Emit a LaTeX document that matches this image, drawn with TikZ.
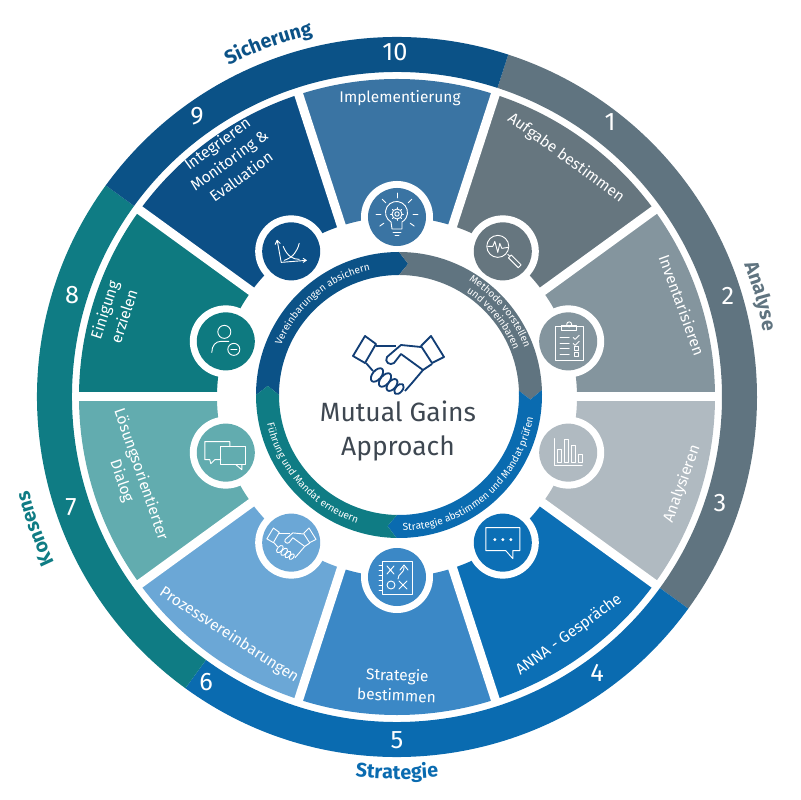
\documentclass[tikz,border=0pt]{standalone}
\usepackage{fontspec}
\setmainfont{Fira Sans}
\usetikzlibrary{decorations.text}

\definecolor{seg1}{HTML}{66767F}
\definecolor{seg2}{HTML}{84959E}
\definecolor{seg3}{HTML}{B0BAC1}
\definecolor{seg4}{HTML}{0C6FB5}
\definecolor{seg5}{HTML}{3B88C6}
\definecolor{seg6}{HTML}{6BA7D6}
\definecolor{seg7}{HTML}{62ACAF}
\definecolor{seg8}{HTML}{0E7A80}
\definecolor{seg9}{HTML}{0C4F86}
\definecolor{seg10}{HTML}{3A74A3}
\definecolor{phasegray}{HTML}{607480}
\definecolor{phaseblue}{HTML}{0A6BB0}
\definecolor{phaseteal}{HTML}{0F7C84}
\definecolor{phasenavy}{HTML}{0B5287}
\definecolor{textgray}{HTML}{3E4751}
\definecolor{shakenavy}{HTML}{123E75}

\tikzstyle{seglabel} = [text=white, align=center, font=\fontsize{11}{14.5}\selectfont, inner sep=0pt]
\tikzstyle{numlabel} = [text=white, font=\fontsize{18}{20}\selectfont, inner sep=0pt]
\tikzstyle{ringhalo} = [circle, fill=white, minimum size=1.8cm, inner sep=0pt]
\tikzstyle{iconback} = [circle, minimum size=1.45cm, inner sep=0pt]
\tikzstyle{iconline} = [draw=white, line width=0.65pt, line cap=round, line join=round]
\newcommand{\titlefont}{\fontsize{14}{16}\selectfont\bfseries}
\newcommand{\ringfont}{\fontsize{7.2}{8}\selectfont}

\tikzset{handshake/.pic={
        \draw (-33,27) -- (-22,19) -- (-33,0) -- (-45,7) -- cycle;
        \draw (33,27) -- (46,6) -- (34,0) -- (23,17) -- cycle;
        \draw (-22,17) -- (-2,17);
        \draw (23,16) -- (3,18) -- (-11,6) .. controls (-14,1) and (-8,-3) .. (-4,0) -- (3,9) -- (25,-7) -- (34,-1);
        \draw (25,-7) -- (14,-20) -- (7,-28);
        \draw (-32,0) -- (-25,-8);
        \draw[rotate around={50:(-21,-12)}] (-21,-12) ellipse (8 and 4.5);
        \draw[rotate around={50:(-13,-17)}] (-13,-17) ellipse (8 and 4.5);
        \draw[rotate around={50:(-6,-22)}] (-6,-22) ellipse (7 and 4);
        \draw[rotate around={50:(1,-26)}] (1,-26) ellipse (6 and 3.5);
}}

\begin{document}
\begin{tikzpicture}[x=0.025cm, y=0.025cm]

        \useasboundingbox (-397,-403) rectangle (403,397);

        %% outer ring
        \fill[phasegray] (72:360) arc (72:-36:360) -- (-36:325) arc (-36:72:325) -- cycle;
        \fill[phaseblue] (-36:360) arc (-36:-126:360) -- (-126:325) arc (-126:-36:325) -- cycle;
        \fill[phaseteal] (-126:360) arc (-126:-216:360) -- (-216:325) arc (-216:-126:325) -- cycle;
        \fill[phasenavy] (144:360) arc (144:72:360) -- (72:325) arc (72:144:325) -- cycle;

        %% segments
        \foreach \a/\c in {90/seg10, 54/seg1, 18/seg2, -18/seg3, -54/seg4, -90/seg5, -126/seg6, -162/seg7, 162/seg8, 126/seg9}
                \fill[\c] ({\a-18}:318) arc ({\a-18}:{\a+18}:318) -- ({\a+18}:180) arc ({\a+18}:{\a-18}:180) -- cycle;
        \foreach \a in {0,36,...,324}
                \draw[white, line width=9*0.025cm] (\a:170) -- (\a:320);

        %% icon circles
        \foreach \a/\c/\n in {90/seg10/10, 54/seg1/1, 18/seg2/2, -18/seg3/3, -54/seg4/4, -90/seg5/5, -126/seg6/6, -162/seg7/7, 162/seg8/8, 126/seg9/9}{
                \node (halo\n) [ringhalo] at (\a:180) {};
                \node (icon\n) [iconback, fill=\c] at (\a:180) {};
        }

        %% inner ring
        \begin{scope}[shift={(2,2)}]
                \fill[phasenavy] (180:143) arc (180:90:143) -- (86:131.5) -- (90:120) arc (90:180:120) -- (176:131.5) -- cycle;
                \fill[phasegray] (90:143) arc (90:2:143) -- (-2:131.5) -- (2:120) arc (2:90:120) -- (86:131.5) -- cycle;
                \fill[phaseblue] (2:143) arc (2:-91:143) -- (-95:131.5) -- (-91:120) arc (-91:2:120) -- (-2:131.5) -- cycle;
                \fill[phaseteal] (-91:143) arc (-91:-180:143) -- (-184:131.5) -- (-180:120) arc (-180:-91:120) -- (-95:131.5) -- cycle;

                \path[decorate, decoration={text along path, text align=center, text={|\ringfont\color{white}|Vereinbarungen absichern}}] (165:128) arc (165:95:128);
                \path[decorate, decoration={text along path, text align=center, text={|\ringfont\color{white}|Methode vorstellen}}] (75:134) arc (75:4:134);
                \path[decorate, decoration={text along path, text align=center, text={|\ringfont\color{white}|und vereinbaren}}] (75:123) arc (75:3:123);
                \path[decorate, decoration={text along path, text align=center, text={|\ringfont\color{white}|Strategie abstimmen und Mandat prüfen}}] (-94:136) arc (-94:-4:136);
                \path[decorate, decoration={text along path, text align=center, text={|\ringfont\color{white}|Führung und Mandat erneuern}}] (182:135) arc (182:262:135);
        \end{scope}

        %% centre
        \pic[color=shakenavy, line width=1.3pt, line join=round] at (1,34) {handshake};
        \node (centre) [text=textgray, align=center, font=\fontsize{18.8}{23.5}\selectfont] at (1,-34) {Mutual Gains\\Approach};

        %% segment labels
        \node (lab10) [seglabel] at (3,299) {Implementierung};
        \node (lab1) [seglabel, rotate=-36] at (169,239) {Aufgabe bestimmen};
        \node (lab2) [seglabel, rotate=-70] at (285,92) {Inventarisieren};
        \node (lab3) [seglabel, rotate=70] at (285,-87) {Analysieren};
        \node (lab4) [seglabel, rotate=36] at (172,-238) {ANNA - Gespräche};
        \node (lab5) [seglabel, rotate=-2.5] at (0,-288) {Strategie\\bestimmen};
        \node (lab6) [seglabel, rotate=-33] at (-168,-238) {Prozessvereinbarungen};
        \node (lab7) [seglabel, rotate=-71] at (-266,-81) {Lösungsorientierter\\Dialog};
        \node (lab8) [seglabel, rotate=72] at (-283,84) {Einigung\\erzielen};
        \node (lab9) [seglabel, rotate=36] at (-168,237) {Integrieren\\Monitoring \&\\Evaluation};

        %% numbers
        \node (num10) [numlabel] at (-2,345) {10};
        \node (num1) [numlabel] at (213,275) {1};
        \node (num2) [numlabel] at (331,101) {2};
        \node (num3) [numlabel] at (323,-106) {3};
        \node (num4) [numlabel] at (200,-276) {4};
        \node (num5) [numlabel] at (0,-343) {5};
        \node (num6) [numlabel] at (-191,-285) {6};
        \node (num7) [numlabel] at (-326,-110) {7};
        \node (num8) [numlabel] at (-325,102) {8};
        \node (num9) [numlabel] at (-200,281) {9};

        %% phase titles
        \path[decorate, decoration={text along path, text align=center, text={|\titlefont\color{phasenavy}|Sicherung}}] (130:372) arc (130:90:372);
        \path[decorate, decoration={text along path, text align=center, text={|\titlefont\color{phasegray}|Analyse}}] (35.5:372) arc (35.5:-4.5:372);
        \path[decorate, decoration={text along path, text align=center, text={|\titlefont\color{phaseblue}|Strategie}}] (-110:382) arc (-110:-70:382);
        \path[decorate, decoration={text along path, text align=center, text={|\titlefont\color{phaseteal}|Konsens}}] (220:380) arc (220:180:380);

        %% icon bulb
        \begin{scope}[shift={(icon10.center)}, iconline]
                \draw (-5,-12) -- (-6,-5) arc (240:-60:11) -- (5,-12) -- cycle;
                \draw (-4,-15) -- (4,-15);
                \draw (-2,-18) -- (2,-18);
                \draw (0,3) circle (2.2);
                \draw (0,3) circle (5);
                \foreach \r in {0,45,...,315}
                        \draw (0,3) ++(\r:5) -- ++(\r:1.5);
                \foreach \r in {0,45,90,135,180,-35,215}
                        \draw (0,3) ++(\r:16) -- ++(\r:5);
        \end{scope}

        %% icon magnifier
        \begin{scope}[shift={(icon1.center)}, iconline]
                \draw (-5,5) circle (11);
                \draw (5,-3) -- (7,-5);
                \draw[rotate around={-45:(12,-10)}] (5,-12) rectangle (19,-8);
                \draw (-15,5) -- (-10,5) -- (-8,10) -- (-5,-1) -- (-3,8) -- (-1,3) -- (5,4);
        \end{scope}

        %% icon clipboard
        \begin{scope}[shift={(icon2.center)}, iconline]
                \draw (-13,15) rectangle (15,-19);
                \draw (-7,11) rectangle (8,16);
                \draw (1,17) circle (2.5);
                \foreach \y in {4,-2,-7,-13}
                        \draw (-8,\y) -- (1,\y);
                \draw (5,4) -- (7,2) -- (11,6);
                \draw (5,-2) -- (7,-4) -- (11,0);
                \draw (6,-9) rectangle (10,-5);
                \draw (6,-15) rectangle (10,-11);
        \end{scope}

        %% icon chart
        \begin{scope}[shift={(icon3.center)}, iconline]
                \draw (-14,14) -- (-14,-13) -- (14,-13);
                \draw (-11,-10) rectangle (-7,3);
                \draw (-4,-10) rectangle (0,13);
                \draw (3,-10) rectangle (7,7);
                \draw (10,-10) rectangle (14,-2);
        \end{scope}

        %% icon speech bubble
        \begin{scope}[shift={(icon4.center)}, iconline]
                \draw (-17,15) -- (17,15) -- (17,-8) -- (10,-8) -- (10,-16) -- (3,-8) -- (-17,-8) -- cycle;
                \fill[white] (-8,3) circle (1.6) (0,3) circle (1.6) (8,3) circle (1.6);
        \end{scope}

        %% icon plan
        \begin{scope}[shift={(icon5.center)}, iconline]
                \draw (-15,16) rectangle (15,-17);
                \foreach \y in {12,7,...,-13}
                        \draw (-18,\y) -- (-15,\y);
                \draw (-10,11) -- (-3,3) (-10,3) -- (-3,11);
                \draw (-6,-8) circle (4);
                \draw (2,-12) -- (10,-4) (2,-4) -- (10,-12);
                \draw (1,-2) .. controls (1,4) and (7,3) .. (7,10);
                \draw (3,7) -- (7,12) -- (11,7);
        \end{scope}

        %% icon handshake
        \pic[color=white, line width=0.65pt, line join=round, scale=0.54] at (icon6.center) {handshake};

        %% icon two bubbles
        \begin{scope}[shift={(icon7.center)}, iconline]
                \draw (-5,6) rectangle (20,-12);
                \draw (10,-12) -- (16,-17) -- (16,-12);
                \draw (4,6) -- (4,11) -- (-21,11) -- (-21,-7) -- (-16,-7) -- (-15,-11) -- (-11,-7) -- (-5,-7);
        \end{scope}

        %% icon person
        \begin{scope}[shift={(icon8.center)}, iconline]
                \draw (-1.5,9.5) circle (6.5);
                \draw (-14,-11) .. controls (-14,-4) and (-10,0) .. (-5,0) -- (3,0);
                \draw (8,-8) circle (6);
                \draw (5,-8) -- (11,-8);
        \end{scope}

        %% icon graph
        \begin{scope}[shift={(icon9.center)}, iconline]
                \draw (-14,11) -- (-10,-11) -- (15,-9);
                \draw (-16,7) -- (-14,11) -- (-11,8);
                \draw (12,-7) -- (15,-9) -- (12,-11);
                \draw (-8,5) .. controls (-4,-5) and (2,-8) .. (8,-8);
                \draw (-7,-9) .. controls (2,-6) and (6,0) .. (8,8);
        \end{scope}

\end{tikzpicture}
\end{document}
